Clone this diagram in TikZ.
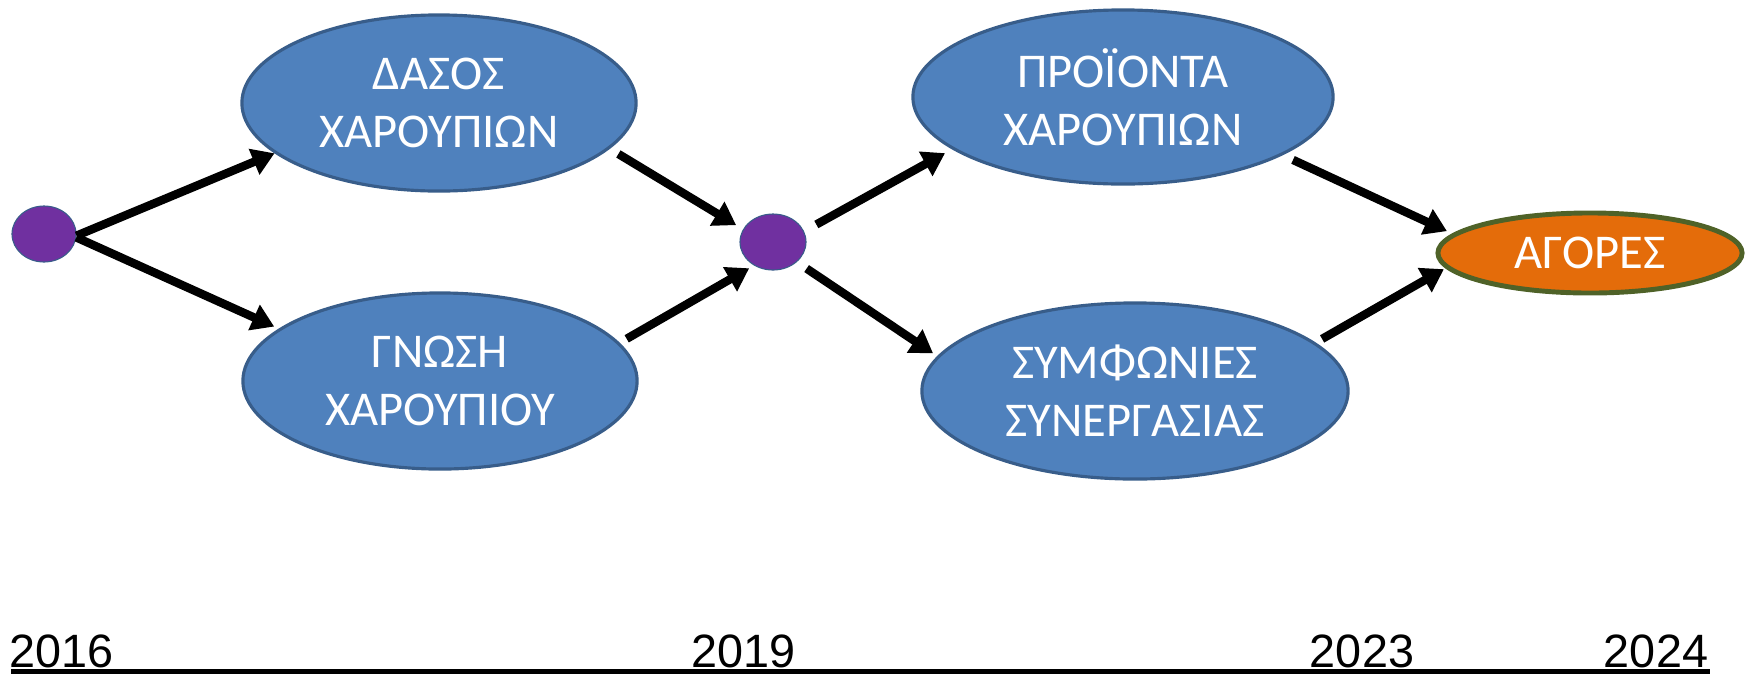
\documentclass[tikz,border=0pt]{standalone}
\usepackage{fontspec}
\setmainfont{Carlito}
\newfontfamily\yearfont{Liberation Sans}
\usetikzlibrary{shapes.geometric,arrows.meta}
\definecolor{boxblue}{HTML}{4F81BD}
\definecolor{boxedge}{HTML}{385D8A}
\definecolor{dotpurple}{HTML}{7030A0}
\definecolor{mktorange}{HTML}{E46C0A}
\definecolor{mktedge}{HTML}{4F6228}
\begin{document}
\begin{tikzpicture}[x=0.01cm,y=-0.01cm,
  bubble/.style={ellipse, draw=boxedge, line width=0.9pt, fill=boxblue, text=white, inner sep=0pt,
    minimum width=3.94cm, minimum height=1.76cm, align=center, font=\fontsize{13.8}{16.4}\selectfont},
  dot/.style={ellipse, fill=dotpurple, draw=boxedge, line width=0.3pt, inner sep=0pt,
    minimum width=0.64cm, minimum height=0.56cm},
  arr/.style={line width=2.4pt, -{Triangle[length=6.3pt,width=7.6pt]}},
  year/.style={font=\yearfont\fontsize{13.3}{16}\selectfont, inner sep=0pt, anchor=base}
]
\useasboundingbox (0,0) rectangle (1748,675);
\node[dot] (d1) at (44,234) {};
\node[dot, minimum width=0.66cm] (d2) at (773,242) {};
\node[bubble] (dasos) at (439,103) {ΔΑΣΟΣ\\ΧΑΡΟΥΠΙΩΝ};
\node[bubble] (gnosi) at (440,381) {ΓΝΩΣΗ\\ΧΑΡΟΥΠΙΟΥ};
\node[bubble, minimum width=4.2cm, minimum height=1.74cm] (proionta) at (1123,97) {ΠΡΟΪΟΝΤΑ\\ΧΑΡΟΥΠΙΩΝ};
\node[bubble, minimum width=4.26cm] (symf) at (1135,391) {ΣΥΜΦΩΝΙΕΣ\\ΣΥΝΕΡΓΑΣΙΑΣ};
\node[bubble, fill=mktorange, draw=mktedge, line width=1.4pt, minimum width=3.04cm, minimum height=0.8cm] (agores) at (1590,253) {ΑΓΟΡΕΣ};

\draw[arr] (d1.-3) -- (dasos.197);
\draw[arr, shorten >=0.05cm] (d1.-6) -- (gnosi.162.5);
\draw[arr, shorten <=0.10cm, shorten >=0.08cm] (dasos.-15.3) -- (d2.157.5);
\draw[arr, shorten <=0.08cm, shorten >=0.055cm] (gnosi.12) -- (d2.231);
\draw[arr, shorten <=0.14cm, shorten >=0.08cm] (d2.19.4) -- (proionta.197.75);
\draw[arr, shorten <=0.117cm, shorten >=0.05cm] (d2.-40.2) -- (symf.170.6);
\draw[arr, shorten <=0.113cm, shorten >=0.06cm] (proionta.-20.9) -- (agores.172.45);
\draw[arr, shorten <=0.074cm, shorten >=0.02cm] (symf.15.5) -- (agores.186);

\node[year, anchor=base west] (y16) at (8.7,667.7) {2016};
\node[year] (y19) at (744,667.7) {2019};
\node[year] (y23) at (1362,667.7) {2023};
\node[year] (y24) at (1656,667.7) {2024};
\coordinate (lineL) at (11,671.6);
\coordinate (lineR) at (1710,671.6);
\draw[line width=1.3pt] (lineL) -- (lineR);
\end{tikzpicture}
\end{document}
